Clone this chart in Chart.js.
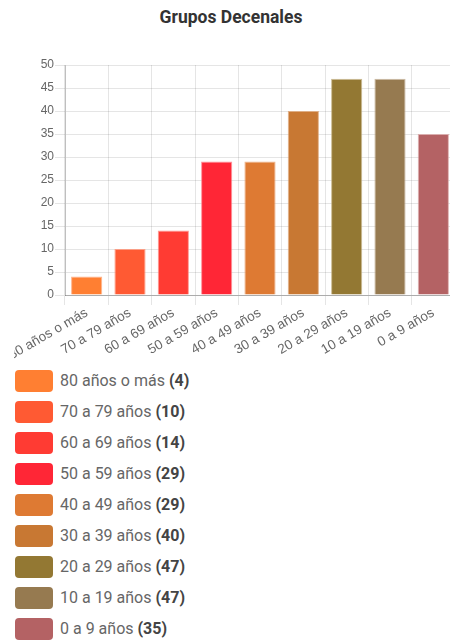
<!DOCTYPE html>
<html>
<head>
<meta charset="utf-8">
<script src="https://cdn.jsdelivr.net/npm/chart.js@4/dist/chart.umd.min.js"></script>
<style>
  html, body { margin: 0; padding: 0; background: #fff; overflow: hidden; width: 450px; height: 642px; }
  #titulo { position: absolute; left: 0; top: 7px; width: 462px; text-align: center;
    font-family: Roboto, sans-serif; font-weight: bold; font-size: 17.5px; color: #333; }
  #caja { position: absolute; left: 14px; top: 40px; width: 446px; height: 320px; }
  #leyenda { position: absolute; left: 15px; top: 370px; margin: 0; padding: 0; list-style: none;
    font-family: Roboto, sans-serif; font-size: 16px; color: #666; }
  #leyenda li { height: 22px; line-height: 22px; margin-bottom: 9px; display: flex; align-items: center; }
  #leyenda span.caja { display: inline-block; width: 38px; height: 22px; border-radius: 4px; margin-right: 7px; }
  #leyenda b { color: #444; }
</style>
</head>
<body>
<div id="titulo">Grupos Decenales</div>
<div id="caja"><canvas id="grafico"></canvas></div>
<ul id="leyenda"></ul>
<script>
const etiquetas = ['80 años o más', '70 a 79 años', '60 a 69 años', '50 a 59 años', '40 a 49 años',
  '30 a 39 años', '20 a 29 años', '10 a 19 años', '0 a 9 años'];
const valores = [4, 10, 14, 29, 29, 40, 47, 47, 35];
const colores = ['#FF7F32', '#FF5A33', '#FF3B33', '#FF2636', '#DE7A33', '#C87833', '#937833', '#967A50', '#B46264'];
const bordes = ['rgba(255,160,110,0.8)', 'rgba(255,140,110,0.8)', 'rgba(255,130,120,0.8)', 'rgba(255,120,130,0.8)',
  'rgba(235,160,110,0.8)', 'rgba(220,160,110,0.8)', 'rgba(190,170,120,0.8)', 'rgba(190,170,140,0.8)', 'rgba(215,160,160,0.8)'];

// leyenda en html
const ul = document.getElementById('leyenda');
etiquetas.forEach((e, i) => {
  const li = document.createElement('li');
  li.innerHTML = `<span class="caja" style="background:${colores[i]}"></span>${e}&nbsp;<b>(${valores[i]})</b>`;
  ul.appendChild(li);
});

const fuenteEjes = { family: 'Liberation Sans, Arial, sans-serif', size: 12 };

new Chart(document.getElementById('grafico'), {
  type: 'bar',
  data: {
    labels: etiquetas,
    datasets: [{
      data: valores,
      backgroundColor: colores,
      borderColor: bordes,
      borderWidth: 1
    }]
  },
  options: {
    responsive: true,
    maintainAspectRatio: false,
    animation: false,
    layout: { padding: { top: 25, right: 5, left: 0, bottom: 0 } },
    plugins: { legend: { display: false }, tooltip: { enabled: false } },
    scales: {
      x: {
        grid: { color: 'rgba(0,0,0,0.1)', tickLength: 10 },
        border: { color: 'rgba(0,0,0,0.25)' },
        ticks: { color: '#666', font: { family: fuenteEjes.family, size: 13.5 }, minRotation: 30, maxRotation: 30, padding: 0 },
        afterFit: (s) => { s.paddingLeft = 0; s.paddingRight = 0; s.height = 65; }
      },
      y: {
        min: 0,
        max: 50,
        grid: { color: 'rgba(0,0,0,0.1)', tickLength: 10 },
        border: { color: 'rgba(0,0,0,0.25)' },
        ticks: { stepSize: 5, color: '#666', font: fuenteEjes, padding: 1 },
        afterFit: (s) => { s.width = 51; }
      }
    }
  }
});
</script>
</body>
</html>
